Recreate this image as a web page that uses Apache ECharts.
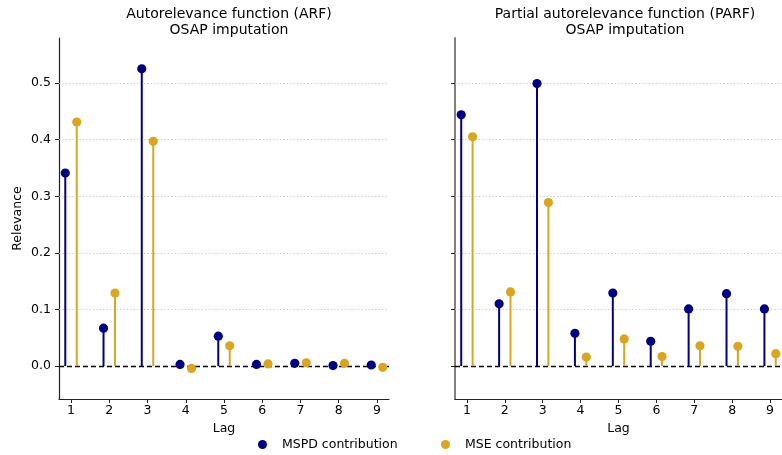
<!DOCTYPE html>
<html>
<head>
<meta charset="utf-8">
<script src="https://cdn.jsdelivr.net/npm/echarts@6/dist/echarts.min.js"></script>
<style>
html,body{margin:0;padding:0;background:#fff;}
#chart{width:782px;height:455px;}
</style>
</head>
<body>
<div id="chart"></div>
<script>
// ---- data ----
const lags = [1, 2, 3, 4, 5, 6, 7, 8, 9];
const arfMSPD = [0.341, 0.067, 0.525, 0.003, 0.053, 0.003, 0.005, 0.001, 0.002];
const arfMSE  = [0.431, 0.129, 0.397, -0.004, 0.036, 0.004, 0.006, 0.005, -0.002];
const parfMSPD = [0.444, 0.110, 0.499, 0.058, 0.129, 0.044, 0.101, 0.128, 0.101];
const parfMSE  = [0.405, 0.131, 0.289, 0.016, 0.048, 0.017, 0.036, 0.035, 0.022];
const yTicks = [0.0, 0.1, 0.2, 0.3, 0.4, 0.5];
const xTicks = [1, 2, 3, 4, 5, 6, 7, 8, 9];
const titles = ['Autorelevance function (ARF)\nOSAP imputation', 'Partial autorelevance function (PARF)\nOSAP imputation'];
const seriesNames = ['MSPD contribution', 'MSE contribution'];

// ---- style ----
const NAVY = '#000080';
const GOLD = '#DAA520';
const FONT = 'DejaVu Sans';
const OFFSET = 0.15;

function stemSeries(name, values, color, idx) {
  return {
    name: name,
    type: 'custom',
    xAxisIndex: idx,
    yAxisIndex: idx,
    clip: false,
    z: 5,
    data: values.map((v, i) => [lags[i] + (name === seriesNames[0] ? -OFFSET : OFFSET), v]),
    renderItem: function (params, api) {
      const x = api.value(0), y = api.value(1);
      const p = api.coord([x, y]);
      const b = api.coord([x, 0]);
      return {
        type: 'group',
        children: [
          {type: 'line', shape: {x1: b[0], y1: b[1], x2: p[0], y2: p[1]}, style: {stroke: color, lineWidth: 2}},
          {type: 'circle', shape: {cx: p[0], cy: p[1], r: 4.6}, style: {fill: color}}
        ]
      };
    },
    itemStyle: {color: color}
  };
}

function gridLines(idx) {
  const grid = yTicks.filter(v => v !== 0).map(v => ({yAxis: v}));
  return {
    type: 'line', xAxisIndex: idx, yAxisIndex: idx, data: [], silent: true, z: 1,
    markLine: {silent: true, symbol: 'none', label: {show: false}, data: grid, animation: false, z: 1,
      lineStyle: {color: '#c4c4c4', type: [1.2, 2.2], width: 1}}
  };
}
function zeroLine(idx) {
  return {
    type: 'line', xAxisIndex: idx, yAxisIndex: idx, data: [], silent: true, z: 3,
    markLine: {silent: true, symbol: 'none', label: {show: false}, data: [{yAxis: 0}], animation: false, z: 3,
      lineStyle: {color: '#000', type: [5, 3], width: 1.3}}
  };
}

const gridTop = 38, gridH = 361, gridW = 330;
const xMin = 0.686, xMax = 9.314, yMin = -0.058, yMax = 0.5795;

function xAxis(idx) {
  return {
    type: 'value', gridIndex: idx, min: xMin, max: xMax,
    name: 'Lag', nameLocation: 'middle', nameGap: 23,
    nameTextStyle: {fontFamily: FONT, fontSize: 12.5, color: '#000'},
    axisLine: {show: true, onZero: false, lineStyle: {color: '#222', width: 1.2}},
    axisTick: {show: true, length: 4, customValues: xTicks, lineStyle: {color: '#222'}},
    axisLabel: {customValues: xTicks, margin: 5, fontFamily: FONT, fontSize: 12.5, color: '#000'},
    splitLine: {show: false}
  };
}
function yAxis(idx) {
  return {
    type: 'value', gridIndex: idx, min: yMin, max: yMax,
    name: idx === 0 ? 'Relevance' : '', nameLocation: 'middle', nameGap: 35,
    nameTextStyle: {fontFamily: FONT, fontSize: 12.5, color: '#000'},
    axisLine: {show: true, onZero: false, lineStyle: {color: idx === 0 ? '#222' : '#808080', width: idx === 0 ? 1.2 : 2}},
    axisTick: {show: true, length: 4, customValues: yTicks, lineStyle: {color: '#222'}},
    axisLabel: {show: idx === 0, customValues: yTicks, margin: 8, fontFamily: FONT, fontSize: 12.5, color: '#000',
      formatter: v => v.toFixed(1)},
    splitLine: {show: false}
  };
}

const chart = echarts.init(document.getElementById('chart'));
chart.setOption({
  animation: false,
  backgroundColor: '#fff',
  title: [
    {text: titles[0], left: 59 + gridW / 2, top: 1, textAlign: 'center',
      textStyle: {fontFamily: FONT, fontSize: 14, fontWeight: 'normal', color: '#000', lineHeight: 16.5}},
    {text: titles[1], left: 455 + gridW / 2, top: 1, textAlign: 'center',
      textStyle: {fontFamily: FONT, fontSize: 14, fontWeight: 'normal', color: '#000', lineHeight: 16.5}}
  ],
  grid: [
    {left: 59, top: gridTop, width: gridW, height: gridH},
    {left: 455, top: gridTop, width: gridW, height: gridH}
  ],
  xAxis: [xAxis(0), xAxis(1)],
  yAxis: [yAxis(0), yAxis(1)],
  legend: [
    {data: [{name: seriesNames[0], icon: 'circle'}], left: 253, top: 433, itemWidth: 9, itemHeight: 9,
      textStyle: {fontFamily: FONT, fontSize: 12.5, color: '#000', padding: [0, 0, 0, 10]}},
    {data: [{name: seriesNames[1], icon: 'circle'}], left: 436, top: 433, itemWidth: 9, itemHeight: 9,
      textStyle: {fontFamily: FONT, fontSize: 12.5, color: '#000', padding: [0, 0, 0, 10]}}
  ],
  series: [
    gridLines(0), gridLines(1), zeroLine(0), zeroLine(1),
    stemSeries(seriesNames[0], arfMSPD, NAVY, 0),
    stemSeries(seriesNames[1], arfMSE, GOLD, 0),
    stemSeries(seriesNames[0], parfMSPD, NAVY, 1),
    stemSeries(seriesNames[1], parfMSE, GOLD, 1)
  ]
});
</script>
</body>
</html>
